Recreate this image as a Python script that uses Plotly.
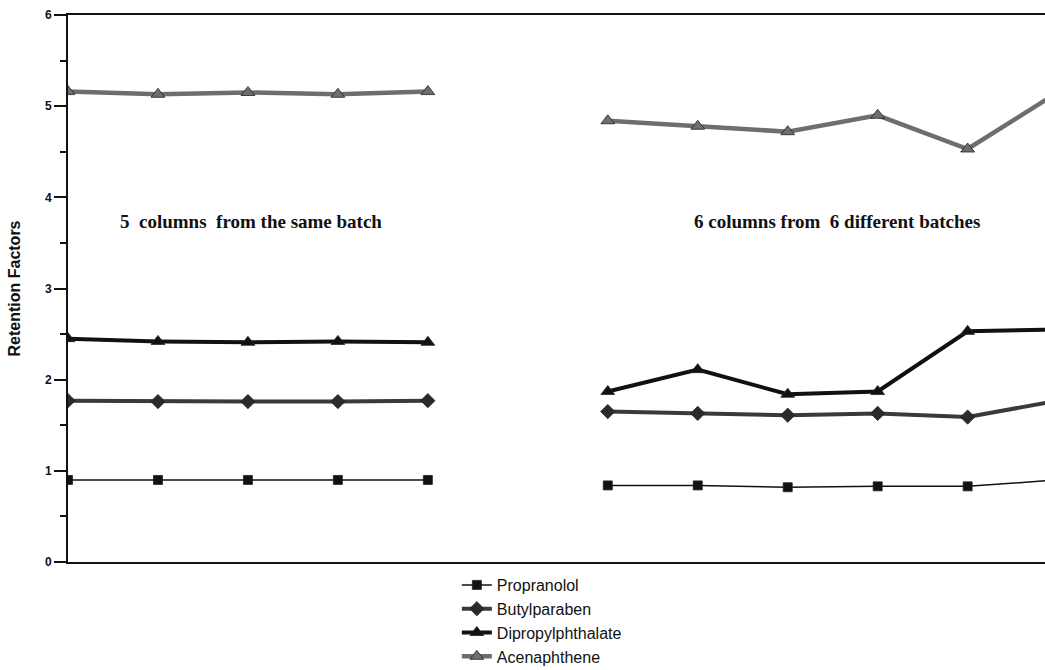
import plotly.graph_objects as go

# column positions: 5 columns same batch (0-4), 6 columns different batches (6-11)
x_same = [0, 1, 2, 3, 4]
x_diff = [6, 7, 8, 9, 10, 11]

propranolol_same = [0.90, 0.90, 0.90, 0.90, 0.90]
propranolol_diff = [0.84, 0.84, 0.82, 0.83, 0.83, 0.90]
butylparaben_same = [1.77, 1.76, 1.76, 1.76, 1.77]
butylparaben_diff = [1.65, 1.63, 1.61, 1.63, 1.59, 1.77]
dipropyl_same = [2.45, 2.42, 2.41, 2.42, 2.41]
dipropyl_diff = [1.87, 2.11, 1.84, 1.87, 2.53, 2.55]
acenaph_same = [5.16, 5.13, 5.15, 5.13, 5.16]
acenaph_diff = [4.84, 4.78, 4.72, 4.90, 4.53, 5.15]

series = [
    ("Propranolol", propranolol_same, propranolol_diff, "#111111", 1.5, "square", 9, "#111111"),
    ("Butylparaben", butylparaben_same, butylparaben_diff, "#3a3a3a", 4, "diamond", 11, "#2a2a2a"),
    ("Dipropylphthalate", dipropyl_same, dipropyl_diff, "#111111", 4, "triangle-up", 12, "#111111"),
    ("Acenaphthene", acenaph_same, acenaph_diff, "#6e6e6e", 4.5, "triangle-up", 12, "#6e6e6e"),
]

fig = go.Figure()
for name, ys, yd, col, w, sym, sz, mcol in series:
    xs = x_same + [None] + x_diff
    yv = ys + [None] + yd
    fig.add_trace(go.Scatter(
        x=xs, y=yv, name=name, mode="lines+markers",
        line=dict(color=col, width=w),
        marker=dict(symbol=sym, size=sz, color=mcol, line=dict(color="#222222", width=0.8)),
        connectgaps=False, cliponaxis=True,
    ))

fig.add_annotation(x=2.03, y=3.73, text="5  columns  from the same batch", showarrow=False,
                   font=dict(family="Liberation Serif", size=19, color="#111111", weight="bold"))
fig.add_annotation(x=8.55, y=3.73, text="6 columns from  6 different batches", showarrow=False,
                   font=dict(family="Liberation Serif", size=19, color="#111111", weight="bold"))

fig.update_layout(
    width=1045, height=670,
    margin=dict(l=68, r=0, t=15, b=108, autoexpand=False),
    paper_bgcolor="white", plot_bgcolor="white",
    showlegend=True,
    legend=dict(x=0.398, y=-0.011, xanchor="left", yanchor="top",
                font=dict(family="Liberation Sans", size=16, color="#111111"),
                bgcolor="rgba(0,0,0,0)", tracegroupgap=0),
    xaxis=dict(range=[0, 10.86], showgrid=False, zeroline=False, showticklabels=False,
               ticks="", showline=True, linecolor="#111111", linewidth=1.5, mirror=True),
    yaxis=dict(range=[0, 6], dtick=1, showgrid=False, zeroline=False,
               showline=True, linecolor="#111111", linewidth=2,
               ticks="outside", ticklen=12, tickwidth=1.5, tickcolor="#111111",
               tickfont=dict(family="Liberation Sans", size=12, color="#111111", weight="bold"),
               minor=dict(ticks="outside", ticklen=6, dtick=0.5, tickcolor="#111111", tickwidth=1.5),
               title=dict(text="Retention Factors", standoff=20,
                          font=dict(family="Liberation Sans", size=16, color="#111111", weight="bold"))),
)

fig.write_html("out.html")
